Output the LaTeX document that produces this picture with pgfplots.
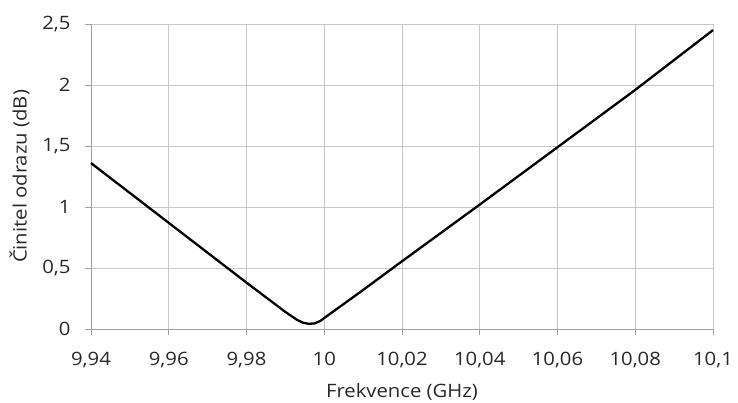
\documentclass[border=0pt]{standalone}
\usepackage{pgfplots}
\pgfplotsset{compat=1.18}
\usepackage{fontspec}
\setmainfont{Open Sans}[FakeStretch=1.1]
\definecolor{gridc}{RGB}{200,200,200}
\definecolor{axc}{RGB}{160,160,160}
\definecolor{txt}{RGB}{40,40,40}
\begin{document}
\begin{tikzpicture}
\path[use as bounding box] (0,0) rectangle (738bp,403bp);
\begin{axis}[
  at={(91bp,74bp)}, anchor=south west,
  width=622bp, height=305bp, scale only axis,
  xmin=9.94, xmax=10.1, ymin=0, ymax=2.5,
  xtick={9.94,9.96,9.98,10,10.02,10.04,10.06,10.08,10.1},
  xticklabels={{9,94},{9,96},{9,98},{10},{10,02},{10,04},{10,06},{10,08},{10,1}},
  ytick={0,0.5,1,1.5,2,2.5},
  yticklabels={{0},{0,5},{1},{1,5},{2},{2,5}},
  grid=major,
  major grid style={gridc, line width=0.8bp},
  axis line style={axc, line width=0.8bp},
  axis x line*=bottom, axis y line*=left,
  tick style={axc, line width=0.8bp},
  tick align=outside, major tick length=6bp,
  ticklabel style={font=\fontsize{18.5}{22}\selectfont, text=txt},
  xticklabel style={anchor=base, yshift=-30bp},
  yticklabel style={xshift=-11bp},
  xlabel={Frekvence (GHz)}, ylabel={Činitel odrazu (dB)},
  label style={font=\fontsize{18.5}{22}\selectfont, text=txt},
  xlabel style={at={(axis description cs:0.5,-0.226)}, anchor=base},
  ylabel style={at={(axis description cs:-0.115,0.5)}, anchor=center},
  clip=false,
]
\addplot[black, line width=2.3bp, line join=round] coordinates {
(9.94,1.36) (9.96,0.87) (9.98,0.38) (9.99,0.14) (9.993,0.075) (9.9945,0.052)
(9.996,0.042) (9.9975,0.046) (9.999,0.066) (10.0,0.09) (10.01,0.32)
(10.02,0.555) (10.04,1.02) (10.06,1.49) (10.08,1.96) (10.1,2.45)
};
\end{axis}
\end{tikzpicture}
\end{document}
